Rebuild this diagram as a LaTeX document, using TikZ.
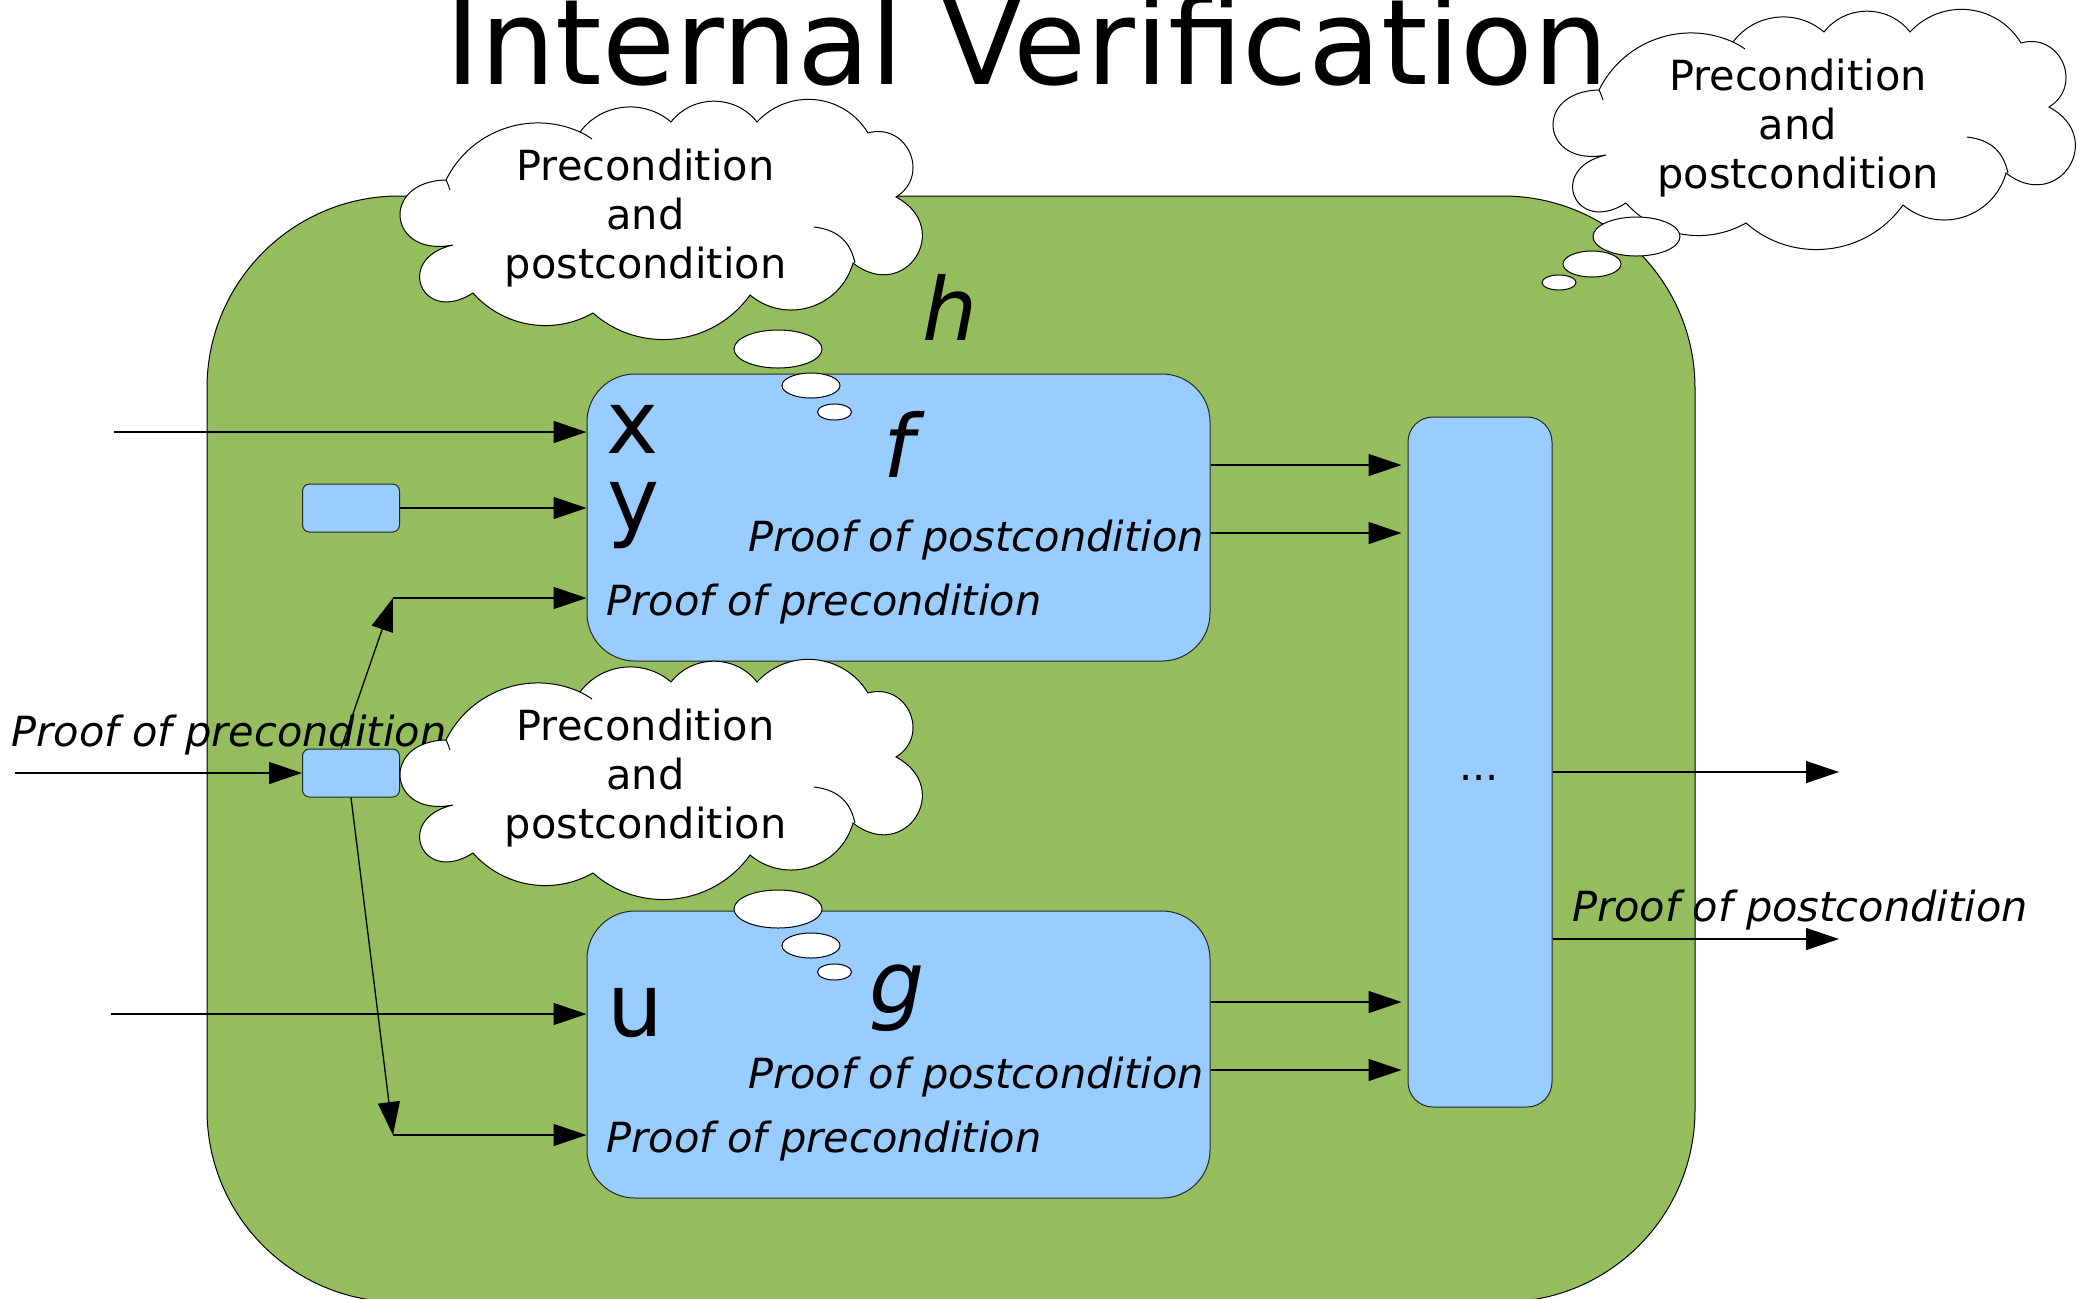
\documentclass[tikz,border=0pt]{standalone}
\usepackage{fontspec}
\setmainfont{DejaVu Sans}
\usetikzlibrary{arrows.meta,shapes.geometric,calc}
\definecolor{hgreen}{RGB}{149,189,94}
\definecolor{fblue}{RGB}{153,204,255}
\newcommand\cloudoutline{%
 \filldraw[cloudst] (-210,25)
  to[bend left=95,looseness=2.6] (-217,-40)
  to[bend left=44,looseness=0.99] (-83,-88)
  to[bend left=47,looseness=1.01] (8,-98)
  to[bend left=52,looseness=1.05] (94,-98)
  to[bend left=53,looseness=1.07] (205,-87)
  to[bend left=82,looseness=1.5] (233,-23)
  to[bend left=95,looseness=2.15] (190,43)
  to[bend left=57,looseness=1.11] (87,75)
  to[bend left=48,looseness=1.02] (-70,93)
  to[bend left=39,looseness=0.96] (-190,73)
  to[bend left=100,looseness=3.0] (-210,25) -- cycle;
 \draw[cloudline] (151,7) .. controls (178,10) and (188,25) .. (192,43);
 \draw[cloudline] (-217,-40) .. controls (-215,-36) and (-214,-33) .. (-213,-30);
 \draw[cloudline] (-83,-88) .. controls (-79,-86) and (-75,-84) .. (-71,-81);
}
\begin{document}
\begin{tikzpicture}[x=0.5pt,y=-0.5pt,
  arr/.style={draw=black, line width=0.65pt, -{Triangle[length=16.5pt,width=11pt]}},
  fbox/.style={draw=black!85, line width=0.5pt, fill=fblue, rounded corners=24pt, inner sep=0pt},
  sbox/.style={draw=black!85, line width=0.5pt, fill=fblue, rounded corners=3.5pt, inner sep=0pt, minimum width=48.5pt, minimum height=24pt},
  bubble/.style={draw=black, line width=0.5pt, fill=white, ellipse, inner sep=0pt},
  cloudst/.style={draw=black, line width=0.5pt, fill=white},
  cloudline/.style={draw=black, line width=0.5pt},
  lbl/.style={inner sep=0pt, anchor=base, font=\fontsize{20.75pt}{24.25pt}\selectfont\itshape},
  ctext/.style={inner sep=0pt, anchor=base, font=\fontsize{20.75pt}{24.25pt}\selectfont},
  big/.style={inner sep=0pt, anchor=base, font=\fontsize{44pt}{48pt}\selectfont},
  bigit/.style={inner sep=0pt, anchor=base, font=\fontsize{43.5pt}{48pt}\selectfont\itshape},
]
\useasboundingbox (0,0) rectangle (2079,1298);
\clip (0,0) rectangle (2079,1298);

% outer function h
\node[draw=black, line width=0.5pt, fill=hgreen, rounded corners=96pt, minimum width=744pt, minimum height=553pt, inner sep=0pt] (hbox) at (951,749) {};
\node[anchor=base west, inner sep=0pt, font=\fontsize{59.4pt}{61pt}\selectfont] (title) at (445,84) {Internal Verification};

% boxes
\node[fbox, minimum width=311.5pt, minimum height=143.5pt] (f) at (898.5,517.5) {};
\node[fbox, minimum width=311.5pt, minimum height=143.5pt] (g) at (898.5,1054.5) {};
\node[fbox, rounded corners=12.5pt, minimum width=72pt, minimum height=345pt] (dots) at (1480,762) {};
\node[sbox] (sb1) at (351,508) {};
\node[sbox] (sb2) at (351,773) {};

% coordinates
\coordinate (inx) at (114,432);
\coordinate (inp) at (15,773);
\coordinate (inu) at (111,1014);
\coordinate (cf) at (393,598);
\coordinate (cg) at (393,1135);
\coordinate (r1) at (0,465);
\coordinate (r2) at (0,533);
\coordinate (r3) at (0,1002);
\coordinate (r4) at (0,1070);
\coordinate (o1) at (1839,772);
\coordinate (o2) at (1839,939);

% connectors
\draw[arr] (inx) -- (inx -| f.west);
\draw[arr] (sb1.east) -- (sb1.east -| f.west);
\draw[arr] (inp) -- (sb2.west);
\draw[arr] ([xshift=-5pt]sb2.north) -- (cf);
\draw[arr] (cf) -- (cf -| f.west);
\draw[arr] (sb2.south) -- (cg);
\draw[arr] (cg) -- (cg -| g.west);
\draw[arr] (inu) -- (inu -| g.west);
\draw[arr] (f.east |- r1) -- ($(dots.west |- r1)+(-6,0)$);
\draw[arr] (f.east |- r2) -- ($(dots.west |- r2)+(-6,0)$);
\draw[arr] (g.east |- r3) -- ($(dots.west |- r3)+(-6,0)$);
\draw[arr] (g.east |- r4) -- ($(dots.west |- r4)+(-6,0)$);
\draw[arr] (dots.east |- o1) -- (o1);
\draw[arr] (dots.east |- o2) -- (o2);

% left label (below the cloud)
\node[lbl] (lpre) at (229,746.7) {Proof of precondition};

% clouds
\begin{scope}[shift={(663,220)}]
 \cloudoutline
\end{scope}
\begin{scope}[shift={(663,780)}]
 \cloudoutline
\end{scope}
\begin{scope}[shift={(1816,130)}]
 \cloudoutline
\end{scope}

\node[ctext] (c1a) at (645.5,180.7) {Precondition};
\node[ctext] (c1b) at (645.5,229) {and};
\node[ctext] (c1c) at (645.5,278) {postcondition};
\node[ctext] (c2a) at (645.5,740.7) {Precondition};
\node[ctext] (c2b) at (645.5,789) {and};
\node[ctext] (c2c) at (645.5,838) {postcondition};
\node[ctext] (c3a) at (1798,90.7) {Precondition};
\node[ctext] (c3b) at (1798,139) {and};
\node[ctext] (c3c) at (1798,188) {postcondition};

% thought bubbles
\node[bubble, minimum width=44pt, minimum height=19pt] (b1a) at (778,349) {};
\node[bubble, minimum width=29pt, minimum height=12.5pt] (b1b) at (811,385.5) {};
\node[bubble, minimum width=17pt, minimum height=8pt] (b1c) at (834.5,412) {};
\node[bubble, minimum width=44pt, minimum height=19pt] (b2a) at (778,909) {};
\node[bubble, minimum width=29pt, minimum height=12.5pt] (b2b) at (811,945.5) {};
\node[bubble, minimum width=17pt, minimum height=8pt] (b2c) at (834.5,972) {};
\node[bubble, minimum width=43.5pt, minimum height=19.5pt] (b3a) at (1636.5,236.5) {};
\node[bubble, minimum width=29pt, minimum height=13pt] (b3b) at (1592,264) {};
\node[bubble, minimum width=17pt, minimum height=7.5pt] (b3c) at (1559,282.5) {};

% texts
\node[bigit] (hl) at (950,340) {h};
\node[bigit] (fl) at (899,477) {f};
\node[bigit] (gl) at (897,1013) {g};
\node[big] (xl) at (632.5,453.3) {x};
\node[big] (yl) at (633.5,530) {y};
\node[big] (ul) at (635,1036.7) {u};
\node[lbl] (fpost) at (976,551.7) {Proof of postcondition};
\node[lbl] (fpre) at (824,615) {Proof of precondition};
\node[lbl] (gpost) at (976,1088.7) {Proof of postcondition};
\node[lbl] (gpre) at (824,1152) {Proof of precondition};
\node[lbl] (rpost) at (1800,921) {Proof of postcondition};
\node[ctext] (dotl) at (1479,780) {...};
\end{tikzpicture}
\end{document}
